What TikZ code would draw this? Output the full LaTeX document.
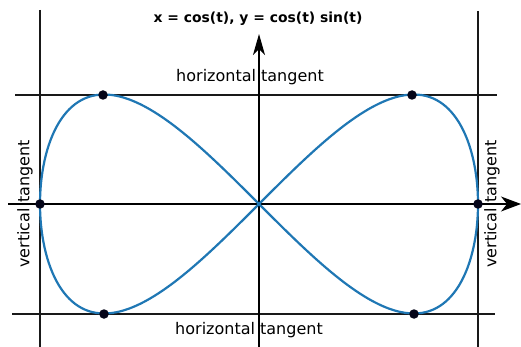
\documentclass[tikz,border=0pt]{standalone}
\usepackage{fontspec}
\setmainfont{DejaVu Sans}
\usetikzlibrary{arrows.meta}
\definecolor{curveblue}{RGB}{31,119,180}
\definecolor{dotcol}{RGB}{5,5,25}
\begin{document}
\begin{tikzpicture}[x=1pt,y=-1pt,
  tangentline/.style={line width=2.4pt,black!90},
  axisline/.style={line width=1.2pt,black},
  dotnode/.style={circle,fill=dotcol,inner sep=0pt,minimum size=9.5pt},
  lbl/.style={font=\fontsize{16}{18}\selectfont,inner sep=0pt},
  ttl/.style={font=\bfseries\fontsize{13.9}{16}\selectfont,inner sep=0pt}]
\useasboundingbox (0,0) rectangle (521,347);
% coordinates
\coordinate (xl) at (8,204);
\coordinate (xr) at (521,204);
\coordinate (yb) at (259,347);
\coordinate (yt) at (259,34);
\coordinate (lvt) at (40,10);
\coordinate (lvb) at (40,347);
\coordinate (rvt) at (478,11);
\coordinate (rvb) at (478,347);
\coordinate (tha) at (15,95);
\coordinate (thb) at (497,95);
\coordinate (bha) at (12,314);
\coordinate (bhb) at (495,314);
% tangent lines
\draw[tangentline] (lvt) -- (lvb);
\draw[tangentline] (rvt) -- (rvb);
\draw[tangentline] (tha) -- (thb);
\draw[tangentline] (bha) -- (bhb);
% axes
\draw[axisline,-{Stealth[length=20pt,width=15pt,inset=6pt]}] (xl) -- (xr);
\draw[axisline,-{Stealth[length=21pt,width=12pt,inset=6pt]}] (yb) -- (yt);
% curve
\draw[curveblue,line width=2.2pt,smooth] plot[domain=0:360,samples=241,variable=\t]
  ({259+219*cos(\t)},{204-219*cos(\t)*sin(\t)});
% dots
\node[dotnode] (vl) at (40,204) {};
\node[dotnode] (vr) at (478,204) {};
\node[dotnode] (htl) at (103,95) {};
\node[dotnode] (htr) at (412,95) {};
\node[dotnode] (hbl) at (104,314) {};
\node[dotnode] (hbr) at (414,314) {};
% labels
\node[ttl] (title) at (258,19) {x = cos(t), y = cos(t) sin(t)};
\node[lbl] (ht) at (250,77) {horizontal tangent};
\node[lbl] (hb) at (249,330) {horizontal tangent};
\node[lbl,rotate=90] (vtl) at (25,204) {vertical tangent};
\node[lbl,rotate=90] (vtr) at (492,204) {vertical tangent};
\end{tikzpicture}
\end{document}
